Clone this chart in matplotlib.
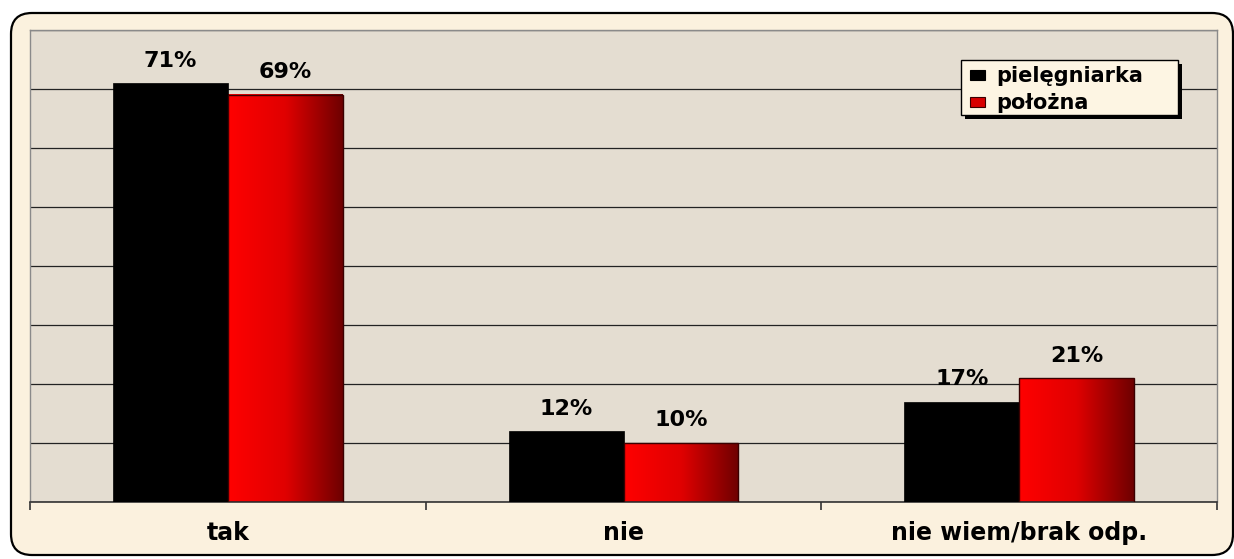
import numpy as np
import matplotlib
matplotlib.use("Agg")
import matplotlib.pyplot as plt
from matplotlib.patches import FancyBboxPatch, Rectangle
from matplotlib.colors import LinearSegmentedColormap

categories = ["tak", "nie", "nie wiem/brak odp."]
series_names = ["pielęgniarka", "położna"]
pielegniarka = [71, 12, 17]
polozna = [69, 10, 21]

W, H = 1234, 559
fig = plt.figure(figsize=(W / 100, H / 100), dpi=100)
fig.patch.set_facecolor("white")


def fx(px):
    return px / W


def fy(py):
    return 1 - py / H


# outer rounded frame
frame = FancyBboxPatch((fx(11), fy(555)), fx(1233) - fx(11), fy(13) - fy(555),
                       boxstyle="round,pad=0,rounding_size=0.017",
                       transform=fig.transFigure, facecolor="#FBF1DE",
                       edgecolor="black", linewidth=1.6, zorder=-10,
                       mutation_aspect=W / H)
fig.patches.append(frame)

ax = fig.add_axes([fx(30), fy(502), fx(1217) - fx(30), fy(30) - fy(502)])
ax.set_zorder(1)
ax.set_facecolor("#E4DDD1")
for s in ["left", "right", "top"]:
    ax.spines[s].set_color("#8a8a8a")
    ax.spines[s].set_linewidth(1.0)
ax.spines["bottom"].set_color("#333333")
ax.spines["bottom"].set_linewidth(1.2)

ax.set_yticks(np.arange(0, 81, 10))
ax.set_yticklabels([])
ax.tick_params(axis="y", length=0)
ax.yaxis.grid(True, color="#222222", linewidth=0.9)
ax.set_axisbelow(True)

x = np.arange(len(categories))
bw = 0.29
bars1 = ax.bar(x - bw / 2, pielegniarka, bw, color="black", edgecolor="black",
               linewidth=0.5, zorder=3)
bars2 = ax.bar(x + bw / 2, polozna, bw, color="none", edgecolor="#3a0000",
               linewidth=1.0, zorder=3)

cmap = LinearSegmentedColormap.from_list("rg", ["#FF0000", "#E00000", "#6E0000"])
grad = np.linspace(0, 1, 256).reshape(1, -1)
for b in bars2:
    x0, y0 = b.get_x(), b.get_y()
    w, h = b.get_width(), b.get_height()
    ax.imshow(grad, extent=[x0, x0 + w, y0, y0 + h], cmap=cmap,
              aspect="auto", zorder=2.5, interpolation="bicubic")
ax.set_xlim(-0.5, len(categories) - 0.5)
ax.set_ylim(0, 80)

lab_font = dict(family="DejaVu Sans", weight="bold", size=16, color="black")
for bars, vals in [(bars1, pielegniarka), (bars2, polozna)]:
    for b, v in zip(bars, vals):
        ax.annotate(f"{v}%", (b.get_x() + b.get_width() / 2, b.get_height()),
                    xytext=(0, 9), textcoords="offset points",
                    ha="center", va="bottom", zorder=5, **lab_font)

# category boundary ticks
ax.set_xticks(np.arange(-0.5, len(categories), 1.0))
ax.set_xticklabels([])
ax.tick_params(axis="x", direction="out", length=6, width=1.2, color="#333333")
for xi, c in zip(x, categories):
    ax.annotate(c, (xi, 0), xytext=(0, -22), textcoords="offset points",
                ha="center", va="center", family="DejaVu Sans",
                weight="bold", size=17, color="black", annotation_clip=False)

# manual legend (pixel layout)
lx0, ly0, lx1, ly1 = 961, 60, 1178, 115
sh = 4
fig.patches.append(Rectangle((fx(lx0 + sh), fy(ly1 + sh)), fx(lx1) - fx(lx0),
                             fy(ly0) - fy(ly1), transform=fig.transFigure,
                             facecolor="black", edgecolor="none", zorder=5))
fig.patches.append(Rectangle((fx(lx0), fy(ly1)), fx(lx1) - fx(lx0),
                             fy(ly0) - fy(ly1), transform=fig.transFigure,
                             facecolor="#FDF5E3", edgecolor="black",
                             linewidth=1.0, zorder=6))
leg_colors = [("black", "black"), ("#D80000", "#3a0000")]
rows_y = [75, 102]
for (fc, ec), name, ry in zip(leg_colors, series_names, rows_y):
    fig.patches.append(Rectangle((fx(970), fy(ry + 5)), fx(985) - fx(970),
                                 fy(ry - 5) - fy(ry + 5),
                                 transform=fig.transFigure, facecolor=fc,
                                 edgecolor=ec, linewidth=0.8, zorder=7))
    fig.text(fx(996), fy(ry + 1), name, ha="left", va="center",
             family="DejaVu Sans", weight="bold", size=15, color="black",
             zorder=8)

fig.savefig("out.png", dpi=100)
